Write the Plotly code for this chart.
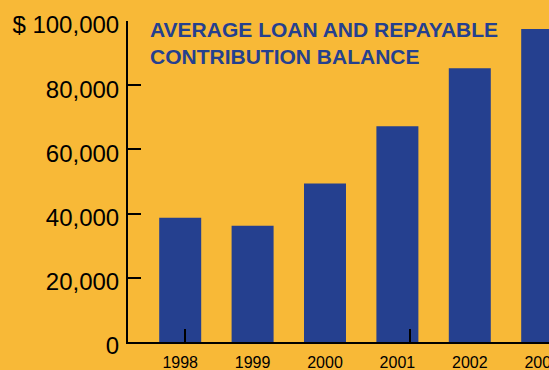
import plotly.graph_objects as go

years = [1998, 1999, 2000, 2001, 2002, 2003]
year_labels = ["1998", "1999", "2000", "2001", "2002", "2003"]
balance = [38700, 36200, 49400, 67200, 85300, 97500]
y_ticks = [0, 20000, 40000, 60000, 80000, 100000]
y_tick_labels = ["0", "20,000", "40,000", "60,000", "80,000", "$ 100,000"]
x_marks = [1998.06, 2001.17]
title_lines = ["AVERAGE LOAN AND REPAYABLE", "CONTRIBUTION BALANCE"]

BG = "#F8B937"
BLUE = "#25408F"
FONT = "Liberation Sans, Arial, Helvetica, sans-serif"

fig = go.Figure()
fig.add_trace(go.Bar(
    x=years, y=balance, width=0.58,
    marker=dict(color=BLUE, line=dict(width=0)),
    hoverinfo="skip",
))

fig.update_layout(
    width=549, height=370,
    margin=dict(l=128, r=0, t=21, b=28, pad=0),
    paper_bgcolor=BG, plot_bgcolor=BG,
    showlegend=False,
    font=dict(family=FONT, color="black"),
    title=dict(
        text="<br>".join(title_lines),
        font=dict(family=FONT, size=21, color=BLUE, weight="bold"),
        xref="container", yref="container",
        x=150 / 549, xanchor="left",
        y=1 - 37 / 370, yanchor="top",
        automargin=False,
    ),
    xaxis=dict(
        range=[1997.279, 2003.094],
        tickvals=years, ticktext=year_labels,
        ticks="", showgrid=False, zeroline=False,
        showline=True, linecolor="black", linewidth=2,
        tickfont=dict(size=16, color="black"),
        ticklabelstandoff=5,
        ticklabeloverflow="allow",
        automargin=False,
        minor=dict(tickvals=x_marks, ticks="inside", ticklen=13,
                   tickwidth=2, tickcolor="black", showgrid=False),
        fixedrange=True,
    ),
    yaxis=dict(
        range=[0, 100000],
        tickvals=y_ticks, ticktext=y_tick_labels,
        ticks="inside", ticklen=13, tickwidth=2, tickcolor="black",
        showgrid=False, zeroline=False,
        showline=True, linecolor="black", linewidth=2,
        tickfont=dict(size=24, color="black"),
        ticklabelstandoff=2,
        ticklabelshift=4,
        automargin=False,
        fixedrange=True,
    ),
)

fig.write_html("out.html")
